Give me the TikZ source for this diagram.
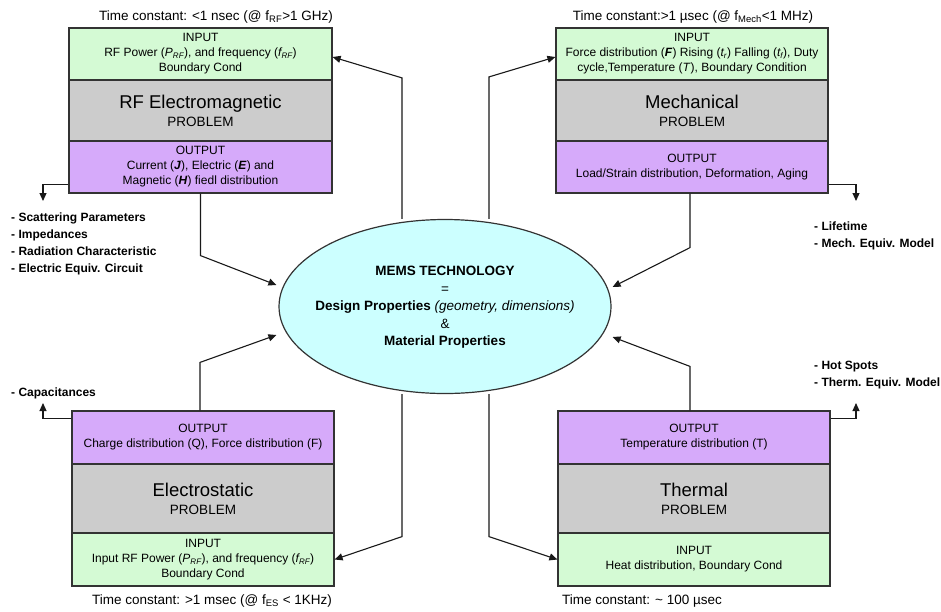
\documentclass[tikz,border=0pt]{standalone}
\usepackage{fontspec}
\setmainfont{Liberation Sans}
\usetikzlibrary{arrows.meta,shapes.geometric}
\definecolor{ingreen}{RGB}{212,250,212}
\definecolor{outpurple}{RGB}{214,170,250}
\definecolor{probgray}{RGB}{204,204,204}
\definecolor{memscyan}{RGB}{204,255,255}
\definecolor{edgegray}{RGB}{51,51,51}
\begin{document}
\begin{tikzpicture}[x=1pt,y=-1pt,
  secbox/.style={draw=edgegray, line width=1.2pt, align=center, inner sep=0pt, font={\fontsize{12}{15}\selectfont}},
  inbox/.style={secbox, fill=ingreen},
  outbox/.style={secbox, fill=outpurple},
  probbox/.style={secbox, fill=probgray, font={\fontsize{13.5}{18}\selectfont}},
  tconst/.style={inner sep=0pt, font={\fontsize{13.5}{16}\selectfont}},
  reslist/.style={inner sep=0pt, anchor=west, align=left, font={\fontsize{12}{17}\selectfont\bfseries}},
  conn/.style={draw=black!90, line width=1.1pt, -{Triangle[length=8pt,width=7pt]}}
]
\path[fill=white] (0,0) rectangle (941,611);
\useasboundingbox (0,0) rectangle (941,611);

% ---------- RF Electromagnetic ----------
\node[inbox, minimum width=263pt, minimum height=52pt] (rfin) at (200.5,54)
  {INPUT\\RF Power (\textit{P\textsubscript{RF}}), and frequency (\textit{f\textsubscript{RF}})\\Boundary Cond};
\node[probbox, minimum width=263pt, minimum height=61pt] (rfprob) at (200.5,110.5)
  {{\fontsize{18.5}{18}\selectfont RF Electromagnetic}\\PROBLEM};
\node[outbox, minimum width=263pt, minimum height=52pt] (rfout) at (200.5,167)
  {OUTPUT\\Current (\textbf{\textit{J}}), Electric (\textbf{\textit{E}}) and\\Magnetic (\textbf{\textit{H}}) fiedl distribution};
\node[tconst] (rftc) at (216,17) {Time constant: <1 nsec (@ f\textsubscript{RF}>1 GHz)};

% ---------- Mechanical ----------
\node[inbox, minimum width=272pt, minimum height=52pt] (mechin) at (692,54)
  {INPUT\\Force distribution (\textbf{\textit{F}}) Rising (\textit{t\textsubscript{r}}) Falling (\textit{t\textsubscript{f}}), Duty\\cycle,Temperature (\textit{T}), Boundary Condition};
\node[probbox, minimum width=272pt, minimum height=61pt] (mechprob) at (692,110.5)
  {{\fontsize{18.5}{18}\selectfont Mechanical}\\PROBLEM};
\node[outbox, minimum width=272pt, minimum height=52pt] (mechout) at (692,167)
  {OUTPUT\\Load/Strain distribution, Deformation, Aging};
\node[tconst] (mechtc) at (693,17) {Time constant:>1 µsec (@ f\textsubscript{Mech}<1 MHz)};

% ---------- Electrostatic ----------
\node[outbox, minimum width=262pt, minimum height=53pt] (esout) at (203,437.5)
  {OUTPUT\\Charge distribution (Q), Force distribution (F)};
\node[probbox, minimum width=262pt, minimum height=69pt] (esprob) at (203,498.5)
  {{\fontsize{18.5}{18}\selectfont Electrostatic}\\PROBLEM};
\node[inbox, minimum width=262pt, minimum height=53pt] (esin) at (203,559.5)
  {INPUT\\Input RF Power (\textit{P\textsubscript{RF}}), and frequency (\textit{f\textsubscript{RF}})\\Boundary Cond};
\node[tconst] (estc) at (212,601) {Time constant: >1 msec (@ f\textsubscript{ES} < 1KHz)};

% ---------- Thermal ----------
\node[outbox, minimum width=272pt, minimum height=53pt] (thout) at (694,437.5)
  {OUTPUT\\Temperature distribution (T)};
\node[probbox, minimum width=272pt, minimum height=69pt] (thprob) at (694,498.5)
  {{\fontsize{18.5}{18}\selectfont Thermal}\\PROBLEM};
\node[inbox, minimum width=272pt, minimum height=53pt] (thin) at (694,559.5)
  {INPUT\\Heat distribution, Boundary Cond};
\node[tconst, anchor=west] (thtc) at (562,601) {Time constant: \textasciitilde{} 100 µsec};

% ---------- MEMS ellipse ----------
\node[ellipse, draw=edgegray, line width=1.2pt, fill=memscyan, minimum width=332pt, minimum height=174pt,
      inner sep=0pt] (mems) at (445,306.5) {};
\node[inner sep=0pt, align=center, font={\fontsize{13.5}{17.5}\selectfont}] (memstext) at ([yshift=-1pt]mems.center)
  {\textbf{MEMS TECHNOLOGY}\\=\\\textbf{Design Properties} \textit{(geometry, dimensions)}\\\&\\\textbf{Material Properties}};

% ---------- result lists ----------
\node[reslist] (rfres) at (11,244) {- Scattering Parameters\\- Impedances\\- Radiation Characteristic\\- Electric Equiv. Circuit};
\node[reslist] (mechres) at (814,235.5) {- Lifetime\\- Mech. Equiv. Model};
\node[reslist] (thres) at (814,375) {- Hot Spots\\- Therm. Equiv. Model};
\node[reslist] (esres) at (11,393) {- Capacitances};

\coordinate (rfresarrow) at (43,201);
\coordinate (mechresarrow) at (856,201);
\coordinate (thresarrow) at (856,403);
\coordinate (esresarrow) at (43,403);

% ---------- connectors ----------
% outputs into MEMS
\draw[conn] (rfout.south) -- ++(0,62) -- ([xshift=-2pt,yshift=21.5pt]mems.west);
\draw[conn] ([xshift=-3pt]esout.north) -- ++(0,-48) -- ([xshift=-2pt,yshift=-28.5pt]mems.west);
\draw[conn] ([xshift=-2pt]mechout.south) -- ++(0,54) -- ([xshift=1pt,yshift=19.5pt]mems.east);
\draw[conn] ([xshift=-4pt]thout.north) -- ++(0,-44) -- ([xshift=1pt,yshift=-30.5pt]mems.east);

% MEMS into inputs
\draw[conn] ([xshift=-43pt]mems.north) -- ++(0,-141) -- ([yshift=-3pt]rfin.east);
\draw[conn] ([xshift=44pt]mems.north) -- ++(0,-142) -- ([yshift=-3pt]mechin.west);
\draw[conn] ([xshift=-43pt]mems.south) -- ++(0,142.5) -- (esin.east);
\draw[conn] ([xshift=44pt]mems.south) -- ++(0,142.5) -- (thin.west);

% outputs to result lists
\draw[conn] ([yshift=9pt]rfout.south west) -| (rfresarrow);
\draw[conn] ([yshift=9pt]mechout.south east) -| (mechresarrow);
\draw[conn] ([yshift=-8pt]thout.north east) -| (thresarrow);
\draw[conn] ([yshift=-8pt]esout.north west) -| (esresarrow);
\end{tikzpicture}
\end{document}
